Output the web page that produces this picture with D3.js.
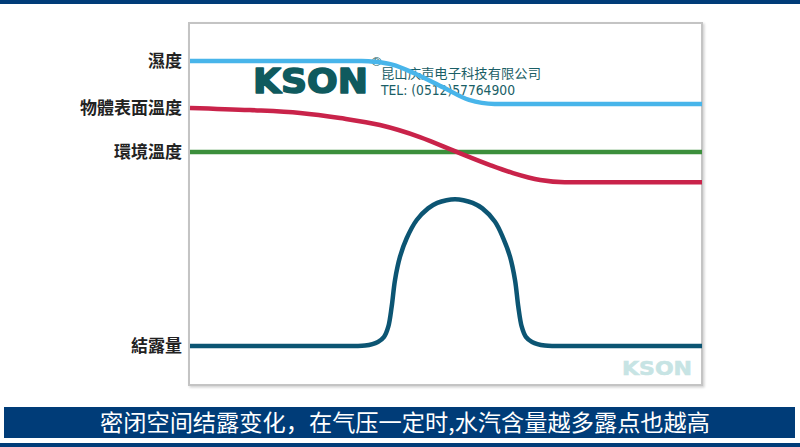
<!DOCTYPE html>
<html><head><meta charset="utf-8">
<script src="https://cdn.jsdelivr.net/npm/d3@7"></script>
<style>html,body{margin:0;padding:0;background:#fff;}svg{display:block;}</style>
</head><body>
<svg id="c" width="800" height="447"></svg>
<script>
// ---- data (time 0..100, level 0..100) ----
const seriesLabels = ["濕度", "物體表面溫度", "環境溫度", "結露量"];
const humidityT = [0, 33.5, 36.5, 39.5, 44.0, 49.5, 54.5, 59.5, 100];
const humidityV = [89.3, 89.3, 89.0, 88.3, 85.8, 82.0, 78.6, 77.5, 77.5];
const surfaceT = [0, 11.7, 21.5, 29.3, 37.1, 44.9, 52.1, 58.6, 63.1, 68.4, 73.2, 100];
const surfaceV = [76.4, 75.8, 75.0, 73.6, 71.7, 68.4, 64.3, 60.7, 58.5, 56.6, 56.0, 56.0];
const ambientT = [0, 100];
const ambientV = [64.3, 64.3];
const dewT = [0, 31.25, 34.2, 36.7, 37.9, 38.73, 39.39, 40.04, 41.02, 42.32, 44.28, 46.5, 48.3, 50.1, 51.76,
              53.4, 55.2, 57.1, 59.57, 61.19, 62.5, 63.48, 64.12, 64.79, 65.6, 66.8, 69.3, 72.3, 100];
const dewV = [11.0, 11.0, 11.1, 12.1, 13.5, 16.29, 21.79, 29.12, 35.52, 40.58, 45.6, 48.8, 50.3, 51.05, 51.3,
              51.05, 50.3, 48.8, 45.14, 40.58, 35.52, 29.12, 21.79, 16.29, 13.5, 12.1, 11.1, 11.0, 11.0];
const brandName = "KSON";
const companyName = "昆山庆声电子科技有限公司";
const companyTel = "TEL: (0512)57764900";
const caption = "密闭空间结露变化，在气压一定时,水汽含量越多露点也越高";

const svg = d3.select("#c");
const box = {x0: 189, y0: 23, x1: 702, y1: 385};
const x = d3.scaleLinear().domain([0, 100]).range([190, 702]);
const y = d3.scaleLinear().domain([0, 100]).range([386, 22]);

// top bar
svg.append("rect").attr("x",0).attr("y",0).attr("width",800).attr("height",4).attr("fill","#003c78");

// box shadow + border
const defs = svg.append("defs");
const f = defs.append("filter").attr("id","sh").attr("x","-5%").attr("y","-5%").attr("width","110%").attr("height","110%");
f.append("feDropShadow").attr("dx",1.5).attr("dy",1.5).attr("stdDeviation",1.2).attr("flood-color","#000").attr("flood-opacity",0.18);
svg.append("rect").attr("x",box.x0).attr("y",box.y0).attr("width",box.x1-box.x0).attr("height",box.y1-box.y0)
  .attr("fill","#fff").attr("stroke","#c4c4c4").attr("stroke-width",2).attr("filter","url(#sh)");

// watermark
svg.append("text").attr("x",622).attr("y",375)
  .attr("font-family","DejaVu Sans, sans-serif").attr("font-weight","bold").attr("font-size",20)
  .attr("fill","#c7e4e4").attr("stroke","#c7e4e4").attr("stroke-width",0.6)
  .attr("textLength",70).attr("lengthAdjust","spacingAndGlyphs").text(brandName);

// logo
svg.append("text").attr("x",253).attr("y",93).attr("font-family","DejaVu Sans, sans-serif")
  .attr("font-weight","bold").attr("font-size",34).attr("fill","#0f5a5e")
  .attr("stroke","#0f5a5e").attr("stroke-width",1.6).attr("stroke-linejoin","round")
  .attr("textLength",115).attr("lengthAdjust","spacingAndGlyphs").text(brandName);
svg.append("text").attr("x",370).attr("y",66).attr("font-family","DejaVu Sans, sans-serif")
  .attr("font-size",13).attr("fill","#0f5a5e").text("®");
svg.append("text").attr("x",381).attr("y",77.5).attr("font-family","'Noto Sans CJK SC', sans-serif")
  .attr("font-size",13).attr("fill","#1a5e66").attr("textLength",160).attr("lengthAdjust","spacingAndGlyphs").text(companyName);
svg.append("text").attr("x",381).attr("y",95).attr("font-family","'DejaVu Sans', sans-serif")
  .attr("font-size",14).attr("fill","#1a5e66").attr("textLength",134).attr("lengthAdjust","spacingAndGlyphs").text(companyTel);

// lines
const mk = (T, V) => T.map((t, i) => ({t, v: V[i]}));
const line = d3.line().x(d => x(d.t)).y(d => y(d.v)).curve(d3.curveMonotoneX);
const lineC = d3.line().x(d => x(d.t)).y(d => y(d.v)).curve(d3.curveCatmullRom.alpha(0.5));
const series = [
  {data: mk(ambientT, ambientV), color: "#3c8f3c", gen: line},
  {data: mk(humidityT, humidityV), color: "#48b5ea", gen: line},
  {data: mk(surfaceT, surfaceV), color: "#c9234a", gen: line},
  {data: mk(dewT, dewV), color: "#0c5573", gen: lineC}
];
series.forEach(s => {
  svg.append("path").attr("d", s.gen(s.data)).attr("fill","none").attr("stroke",s.color)
    .attr("stroke-width",4.5).attr("stroke-linecap","butt");
});

// labels
const labelV = [humidityV[0], surfaceV[0], ambientV[0], dewV[0]];
seriesLabels.forEach((l, i) => {
  svg.append("text").attr("x",182).attr("y",y(labelV[i])).attr("dy","0.36em").attr("text-anchor","end")
    .attr("font-family","'Noto Sans CJK TC', sans-serif").attr("font-weight","bold").attr("font-size",17)
    .attr("fill","#222").text(l);
});

// caption banner
svg.append("rect").attr("x",4).attr("y",407).attr("width",791).attr("height",31).attr("fill","#003c78");
svg.append("rect").attr("x",0).attr("y",443).attr("width",800).attr("height",4).attr("fill","#003c78");
svg.append("text").attr("x",405).attr("y",423).attr("dy","0.36em").attr("text-anchor","middle")
  .attr("font-family","'Noto Sans CJK SC', sans-serif").attr("font-size",23).attr("fill","#fff")
  .attr("textLength",610).attr("lengthAdjust","spacingAndGlyphs").text(caption);
</script>
</body></html>
